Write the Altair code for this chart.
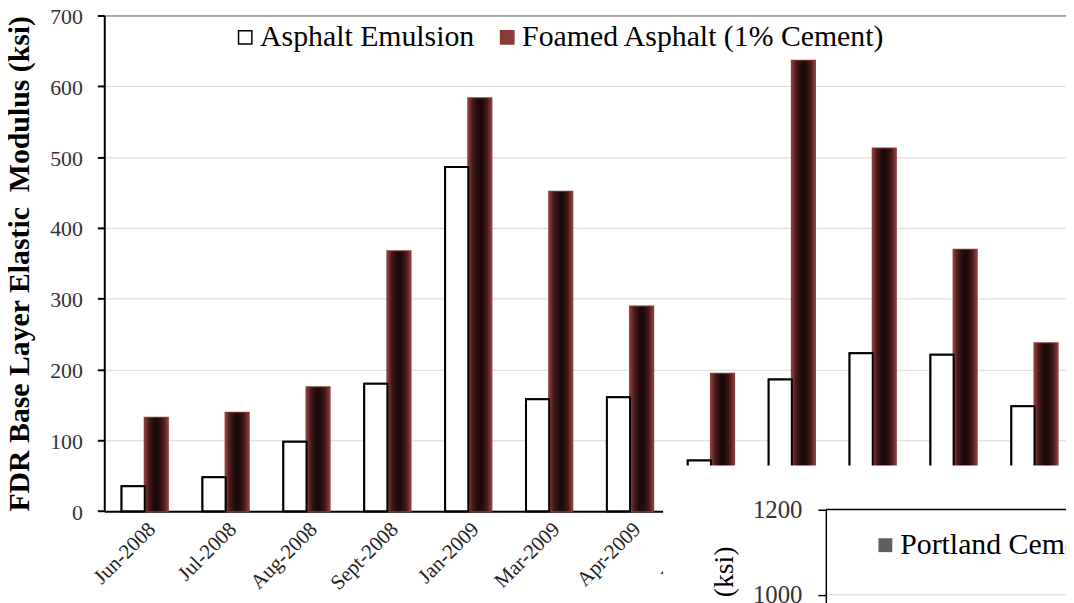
import altair as alt
import pandas as pd

# ---------------- data ----------------
CATEGORIES = ["Jun-2008", "Jul-2008", "Aug-2008", "Sept-2008", "Jan-2009", "Mar-2009",
              "Apr-2009", "Jun-2009", "Jul-2009", "Aug-2009", "Oct-2009", "Jan-2010"]
EMULSION = [35, 48, 98, 180, 486, 158, 161, 71.5, 186, 223, 221, 148]
FOAMED = [132, 139, 175, 367, 583, 451, 289, 194, 636, 512, 369, 237]
SERIES = ["Asphalt Emulsion", "Foamed Asphalt (1% Cement)"]
Y_TICKS = [0, 100, 200, 300, 400, 500, 600, 700]

INSET_SERIES = ["Portland Cement"]
INSET_TICKS = [1000, 1200]
INSET_LINES = ["grid", "frame"]

TITLE = "FDR Base Layer Elastic\u00a0 Modulus (ksi)"
FONT = "'Liberation Serif', 'Times New Roman', Times, 'DejaVu Serif', serif"
MAROON = "#8b3a3a"

rows = []
for c, e, f in zip(CATEGORIES, EMULSION, FOAMED):
    rows.append({"month": c, "series": SERIES[0], "modulus": e})
    rows.append({"month": c, "series": SERIES[1], "modulus": f})
bars = pd.DataFrame(rows)

inset_lines = pd.DataFrame({"tick": INSET_TICKS, "kind": INSET_LINES})
inset_legend = pd.DataFrame({"name": INSET_SERIES})
mask_df = pd.DataFrame({"k": [0]})

# ---------------- main chart ----------------
x_enc = alt.X(
    "month:N", sort=CATEGORIES, title=None,
    scale=alt.Scale(domain=CATEGORIES, range=[0, 978], paddingInner=0.428, paddingOuter=0.214),
    axis=alt.Axis(labelAngle=-45, labelFont=FONT, labelFontSize=21, labelColor="#222",
                  ticks=False, domainColor="black", domainWidth=2, labelPadding=7,
                  labelLimit=0, grid=False, zindex=0),
)
xoff = alt.XOffset("series:N", scale=alt.Scale(domain=SERIES))
y_enc = alt.Y(
    "modulus:Q",
    scale=alt.Scale(domain=[0, 700], nice=False),
    axis=alt.Axis(values=Y_TICKS, title=TITLE, titleFont=FONT, titleFontSize=30,
                  titleFontWeight="bold", titleColor="black", titleX=-76,
                  titleBaseline="alphabetic", titleLimit=2000,
                  labelFont=FONT, labelFontSize=22, labelColor="#333", labelPadding=15,
                  labelOffset=1,
                  tickSize=7, tickWidth=2, tickColor="black", domainColor="black", domainWidth=2,
                  gridColor={"condition": {"test": "datum.value === 700", "value": "#555555"},
                             "value": "#d9d9d9"},
                  gridWidth=1, zindex=0),
)

legend_main = alt.Legend(title=None, orient="none", legendX=127, legendY=7, direction="horizontal",
                         symbolType="square", symbolSize=180, symbolStrokeWidth=1.5,
                         symbolOpacity=1, labelFont=FONT, labelFontSize=30, labelColor="black",
                         labelLimit=0, labelOffset=0, columnPadding=18, padding=0, zindex=2)

flat = alt.Chart(bars).mark_bar(strokeWidth=2).encode(
    x=x_enc, xOffset=xoff, y=y_enc,
    fill=alt.Fill("series:N", scale=alt.Scale(domain=SERIES, range=["white", MAROON]), legend=legend_main),
    stroke=alt.Stroke("series:N", scale=alt.Scale(domain=SERIES, range=["black", MAROON]), legend=legend_main),
)

GRAD = alt.Gradient(
    gradient="linear", x1=0, x2=1, y1=0, y2=0,
    stops=[alt.GradientStop(offset=0, color="#8c3e3e"),
           alt.GradientStop(offset=0.18, color="#4a1a1a"),
           alt.GradientStop(offset=0.42, color="#1d0b0b"),
           alt.GradientStop(offset=0.58, color="#1d0b0b"),
           alt.GradientStop(offset=0.82, color="#4a1a1a"),
           alt.GradientStop(offset=1, color="#8c3e3e")],
)
foamed = alt.Chart(bars).transform_filter(alt.datum.series == SERIES[1]).mark_bar(
    fill=GRAD, strokeWidth=0).encode(x=x_enc, xOffset=xoff, y=y_enc)

emulsion = alt.Chart(bars).transform_filter(alt.datum.series == SERIES[0]).mark_bar(
    fill="white", stroke="black", strokeWidth=2).encode(x=x_enc, xOffset=xoff, y=y_enc)

main = alt.layer(flat, foamed, emulsion)

# ---------------- overlapping second panel ----------------
mask = alt.Chart(mask_df).mark_rect(fill="white").encode(
    x=alt.value(563), x2=alt.value(1000), y=alt.value(453.4), y2=alt.value(700))

inset_y = alt.Y(
    "tick:Q",
    scale=alt.Scale(domain=[900, 1200], range=[626.7, 497.7], nice=False, zero=False),
    axis=alt.Axis(orient="left", offset=-727, values=INSET_TICKS, format="d", grid=False,
                  domainColor="black", domainWidth=1.5, tickColor="black", tickSize=8,
                  tickWidth=1.5, labelFont=FONT, labelFontSize=25, labelColor="#333",
                  labelPadding=16, title=TITLE, titleFont=FONT, titleFontSize=28,
                  titleFontWeight="normal", titleColor="black", titleAlign="right",
                  titleBaseline="middle", titleAngle=270, titleX=-102, titleY=534.5,
                  titleLimit=2000, zindex=2),
)
rules = alt.Chart(inset_lines).mark_rule().encode(
    y=inset_y, x=alt.value(727), x2=alt.value(1000),
    color=alt.Color("kind:N", scale=alt.Scale(domain=INSET_LINES, range=["#d9d9d9", "black"]), legend=None),
    strokeWidth=alt.StrokeWidth("kind:N", scale=alt.Scale(domain=INSET_LINES, range=[1, 1.6]), legend=None),
)

legend2 = alt.Chart(inset_legend).mark_point(filled=True, opacity=0, color="#606060").encode(
    shape=alt.Shape("name:N", scale=alt.Scale(domain=INSET_SERIES, range=["square"]),
                    legend=alt.Legend(title=None, orient="none", legendX=772, legendY=518.7,
                                      symbolSize=196, symbolFillColor="#606060",
                                      symbolStrokeWidth=0, symbolOpacity=1, labelFont=FONT,
                                      labelFontSize=30, labelColor="black", labelOffset=0,
                                      labelLimit=0, padding=0, zindex=2)),
)

inset = alt.layer(mask, rules, legend2)

chart = alt.layer(main, inset).resolve_scale(y="independent").properties(
    width=969, height=499.4,
    autosize=alt.AutoSizeParams(type="none"),
    padding={"left": 97, "top": 5.3, "right": 0, "bottom": 90},
    background="white",
).configure_view(stroke="transparent")

chart.save("out.html", embed_options={"renderer": "svg", "actions": False})
